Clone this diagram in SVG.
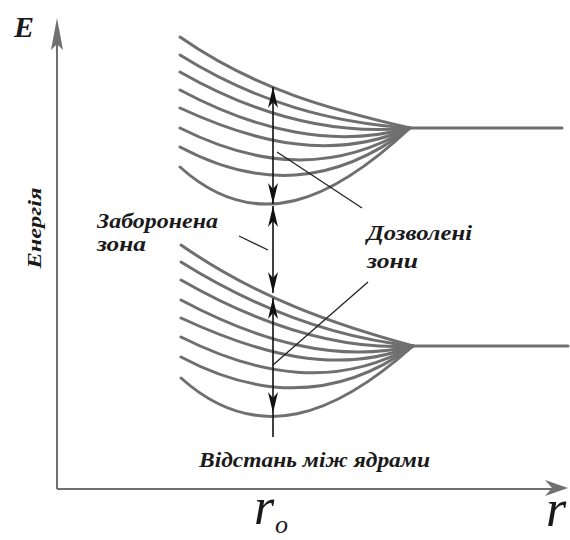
<svg xmlns="http://www.w3.org/2000/svg" width="570" height="540" viewBox="0 0 570 540">
<style>
.curve{fill:none;stroke:#6f6f6f;stroke-width:3;stroke-linecap:round}
.axis{fill:none;stroke:#707070;stroke-width:2}
.arr{fill:none;stroke:#111;stroke-width:1.6}
.lead{fill:none;stroke:#222;stroke-width:1.3}
text{font-family:'Liberation Serif','Times New Roman',serif;fill:#1a1a1a}
.lbl{font-weight:bold;font-style:italic}
.big{font-style:italic}
</style>
<defs>
<marker id="ah" viewBox="-22 -6 24 12" refX="0" refY="0" markerWidth="24" markerHeight="12" markerUnits="userSpaceOnUse" orient="auto-start-reverse">
<path d="M0,0 L-21,-5 L-15,0 L-21,5 Z" fill="#111"/>
</marker>
</defs>
<rect width="570" height="540" fill="#fff"/>
<g id="axes">
<path class="axis" d="M57,489 V30 M57,489 H558"/>
<path d="M57,18 L63,50 L57,44 L51,50 Z" fill="#707070"/>
<path d="M568,488 L545,480 L552,488 L545,496 Z" fill="#707070"/>
</g>
<g id="band-upper">
<path class="curve" d="M180,37 C257,90.5 333,110 410,128"/>
<path class="curve" d="M180,55 C257,103 333,122.9 410,128"/>
<path class="curve" d="M180,72 C257,116 333,135.7 410,128"/>
<path class="curve" d="M180,90 C257,131 333,148.6 410,128"/>
<path class="curve" d="M180,108 C257,143.5 333,161.4 410,128"/>
<path class="curve" d="M180,128 C257,166.6 333,174.3 410,128"/>
<path class="curve" d="M180,147 C257,188 333,187.1 410,128"/>
<path class="curve" d="M180,167 C257,236.4 333,200 410,128"/>
<path class="curve" d="M410,128 H562"/>
</g>
<g id="band-lower">
<path class="curve" d="M181,245 C258,298.5 336,325 413,346"/>
<path class="curve" d="M181,262 C258,310 336,337.9 413,346"/>
<path class="curve" d="M181,280 C258,324 336,350.7 413,346"/>
<path class="curve" d="M181,300 C258,341 336,363.6 413,346"/>
<path class="curve" d="M181,318 C258,353.5 336,376.4 413,346"/>
<path class="curve" d="M181,337 C258,375.6 336,389.3 413,346"/>
<path class="curve" d="M181,357 C258,398 336,402.1 413,346"/>
<path class="curve" d="M181,378 C258,447 336,415 413,346"/>
<path class="curve" d="M413,346 H568"/>
</g>
<g id="connectors">
<line class="arr" x1="273" y1="87" x2="273" y2="204" marker-start="url(#ah)" marker-end="url(#ah)"/>
<line class="arr" x1="273" y1="206" x2="273" y2="293" marker-start="url(#ah)" marker-end="url(#ah)"/>
<line class="arr" x1="273" y1="298" x2="273" y2="413" marker-start="url(#ah)" marker-end="url(#ah)"/>
<line class="arr" x1="273" y1="413" x2="273" y2="437"/>
<line class="lead" x1="277" y1="152" x2="362" y2="208"/>
<line class="lead" x1="273" y1="365" x2="368" y2="282"/>
<line class="lead" x1="239" y1="236" x2="268" y2="250"/>
</g>
<g id="label-E"><text class="lbl" x="14" y="37" font-size="30">E</text></g>
<g id="label-energy"><text class="lbl" font-size="18" text-anchor="middle" transform="translate(41,228) rotate(-90)" textLength="81" lengthAdjust="spacingAndGlyphs">Енергія</text></g>
<g id="label-forbidden"><text class="lbl" font-size="21"><tspan x="97" y="228" textLength="121" lengthAdjust="spacingAndGlyphs">Заборонена</tspan><tspan x="97" y="251" textLength="49" lengthAdjust="spacingAndGlyphs">зона</tspan></text></g>
<g id="label-allowed"><text class="lbl" font-size="21"><tspan x="367" y="240" textLength="105" lengthAdjust="spacingAndGlyphs">Дозволені</tspan><tspan x="367" y="268" textLength="51" lengthAdjust="spacingAndGlyphs">зони</tspan></text></g>
<g id="label-distance"><text class="lbl" x="199" y="467" font-size="20" textLength="231" lengthAdjust="spacingAndGlyphs">Відстань між ядрами</text></g>
<g id="label-r0"><text class="big" x="254" y="524" font-size="52">r</text><text class="big" x="275" y="533" font-size="26">o</text></g>
<g id="label-r"><text class="big" x="546" y="526" font-size="52">r</text></g>
</svg>
